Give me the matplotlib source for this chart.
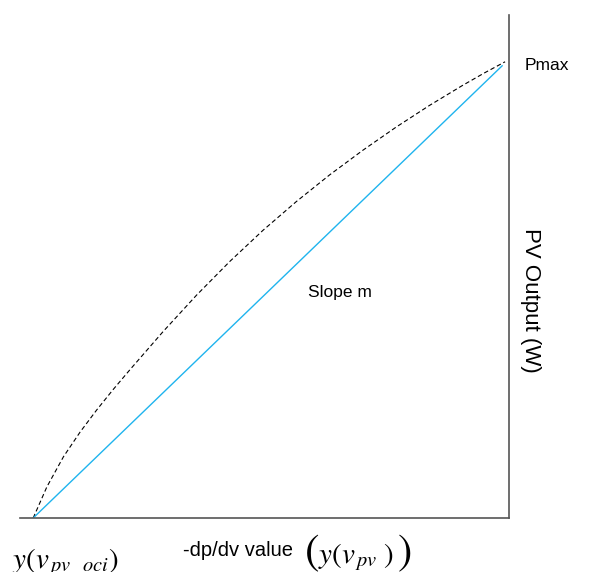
import numpy as np
import matplotlib.pyplot as plt

plt.rcParams['font.family'] = ['Liberation Sans', 'DejaVu Sans']
plt.rcParams['mathtext.fontset'] = 'stix'

# normalised -dp/dv vs PV power
dpdv_curve = [0.027, 0.055, 0.089, 0.123, 0.157, 0.191, 0.225, 0.293, 0.361, 0.429,
              0.497, 0.565, 0.633, 0.701, 0.769, 0.837, 0.905, 0.950, 0.992]
power_curve = [0.0, 0.062, 0.122, 0.171, 0.215, 0.256, 0.295, 0.371, 0.443, 0.510,
               0.572, 0.629, 0.682, 0.731, 0.777, 0.820, 0.860, 0.885, 0.907]

# straight line with slope m between the same end points
dpdv_line = [0.027, 0.986]
power_line = [0.0, 0.899]

fig = plt.figure(figsize=(5.9, 5.72), dpi=100)
ax = fig.add_axes([20/590, 54/572, 489/590, 503/572])

ax.plot(dpdv_curve, power_curve, color='black', lw=0.8, ls=(0, (4, 2.5)))
ax.plot(dpdv_line, power_line, color='#1fb4ee', lw=1.0)

ax.set_xlim(0, 1)
ax.set_ylim(0, 1)
ax.set_xticks([])
ax.set_yticks([])
ax.spines['top'].set_visible(False)
ax.spines['left'].set_visible(False)
for s in ('bottom', 'right'):
    ax.spines[s].set_color('#555555')
    ax.spines[s].set_linewidth(1.2)

fig.text(525/590, 1 - 65/572, 'Pmax', fontsize=12.5, va='center', ha='left')
fig.text(340/590, 1 - 293/572, 'Slope m', fontsize=12.5, va='center', ha='center')
fig.text(530/590, 1 - 300/572, 'PV Output (W)', fontsize=16, rotation=270,
         va='center', ha='center')
fig.text(183/590, 1 - 556/572, '-dp/dv value', fontsize=14.5, va='baseline', ha='left')
fig.text(12/590, 1 - 568/572, r'$y(v_{\,pv\_\,oci})$', fontsize=21,
         va='baseline', ha='left')

# x-axis symbol with enlarged outer brackets
fig.text(318/590, 1 - 563/572, r'$y(v_{\,pv}\;)$', fontsize=21,
         va='baseline', ha='left')
fig.text(304/590, 1 - 553/572, r'$($', fontsize=31, va='center', ha='left')
fig.text(411/590, 1 - 553/572, r'$)$', fontsize=31, va='center', ha='right')

fig.savefig('out.png', dpi=100)
